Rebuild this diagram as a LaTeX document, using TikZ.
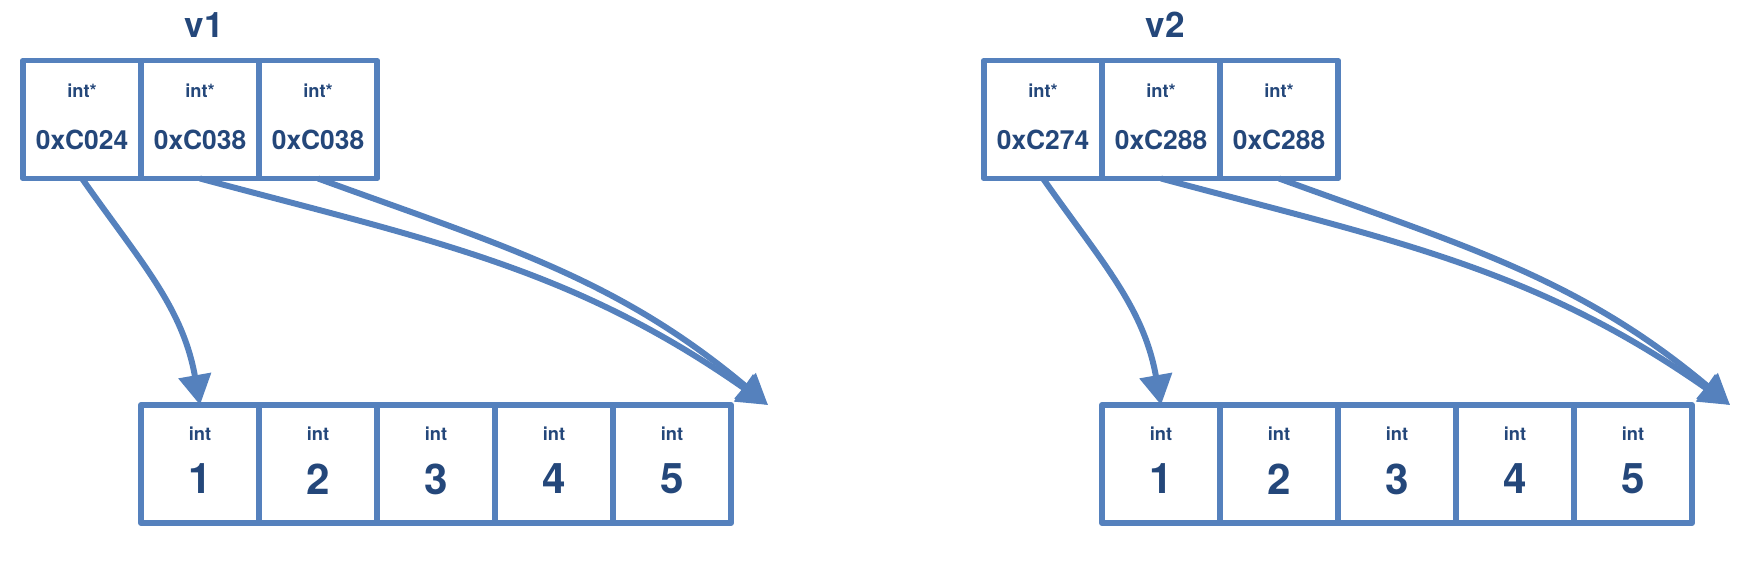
\documentclass[tikz,border=0pt]{standalone}
\usepackage{fontspec}
\setmainfont{TeX Gyre Heros}
\usetikzlibrary{arrows.meta, positioning}

\definecolor{cellblue}{HTML}{5581BD}
\definecolor{textnavy}{HTML}{24477A}

\tikzset{
  cell/.style = {draw = cellblue, line width = 1.7pt, minimum width = 1.18cm, minimum height = 1.18cm, inner sep = 0pt, outer sep = 0pt, line join = round},
  typetext/.style = {text = textnavy, inner sep = 0pt, font = \bfseries\fontsize{5.2}{6}\selectfont},
  addrtext/.style = {text = textnavy, inner sep = 0pt, font = \bfseries\fontsize{7.5}{9}\selectfont},
  numtext/.style = {text = textnavy, inner sep = 0pt, font = \bfseries\fontsize{12}{14}\selectfont},
  vectext/.style = {text = textnavy, inner sep = 0pt, font = \bfseries\fontsize{10}{12}\selectfont},
  ptr/.style = {draw = cellblue, line width = 1.7pt, -{Triangle[length = 0.3cm, width = 0.32cm]}}
}

\begin{document}
\begin{tikzpicture} [scale = 1]
\useasboundingbox (0.0, 0.0) rectangle (17.59, 5.71);

% v1: three pointers
\foreach \i/\a in {1/0xC024, 2/0xC038, 3/0xC038} {
  \node[cell] (p1\i) at ({0.82 + 1.18*(\i - 1)}, 4.515) {};
  \node[typetext] (t1\i) at ([yshift = 0.29cm] p1\i.center) {int*};
  \node[addrtext] (h1\i) at ([yshift = -0.2cm] p1\i.center) {\a};
}
\node[vectext] (v1) at (2.04, 5.46) {v1};

% v2: three pointers
\foreach \i/\a in {1/0xC274, 2/0xC288, 3/0xC288} {
  \node[cell] (p2\i) at ({10.43 + 1.18*(\i - 1)}, 4.515) {};
  \node[typetext] (t2\i) at ([yshift = 0.29cm] p2\i.center) {int*};
  \node[addrtext] (h2\i) at ([yshift = -0.2cm] p2\i.center) {\a};
}
\node[vectext] (v2) at (11.65, 5.46) {v2};

% heap arrays
\foreach \v/\dx in {1/0.0, 2/9.61} {
  \foreach \j in {1,...,5} {
    \node[cell] (a\v\j) at ({0.82 + \dx + 1.18*\j}, 1.07) {};
    \node[typetext] (s\v\j) at ([yshift = 0.30cm] a\v\j.center) {int};
    \node[numtext] (n\v\j) at ([yshift = -0.15cm] a\v\j.center) {\j};
  }
}

% one past the last element
\coordinate[right = 0.37cm of a15.north east] (e1);
\coordinate[right = 0.38cm of a25.north east] (e2);

\draw[ptr] (p11.south) to[out = -55, in = 100] (a11.north);
\draw[ptr] (p12.south) to[out = -15, in = 145] (e1);
\draw[ptr] (p13.south) to[out = -20, in = 140] (e1);

\draw[ptr] (p21.south) to[out = -55, in = 100] (a21.north);
\draw[ptr] (p22.south) to[out = -15, in = 145] (e2);
\draw[ptr] (p23.south) to[out = -20, in = 140] (e2);
\end{tikzpicture}
\end{document}
